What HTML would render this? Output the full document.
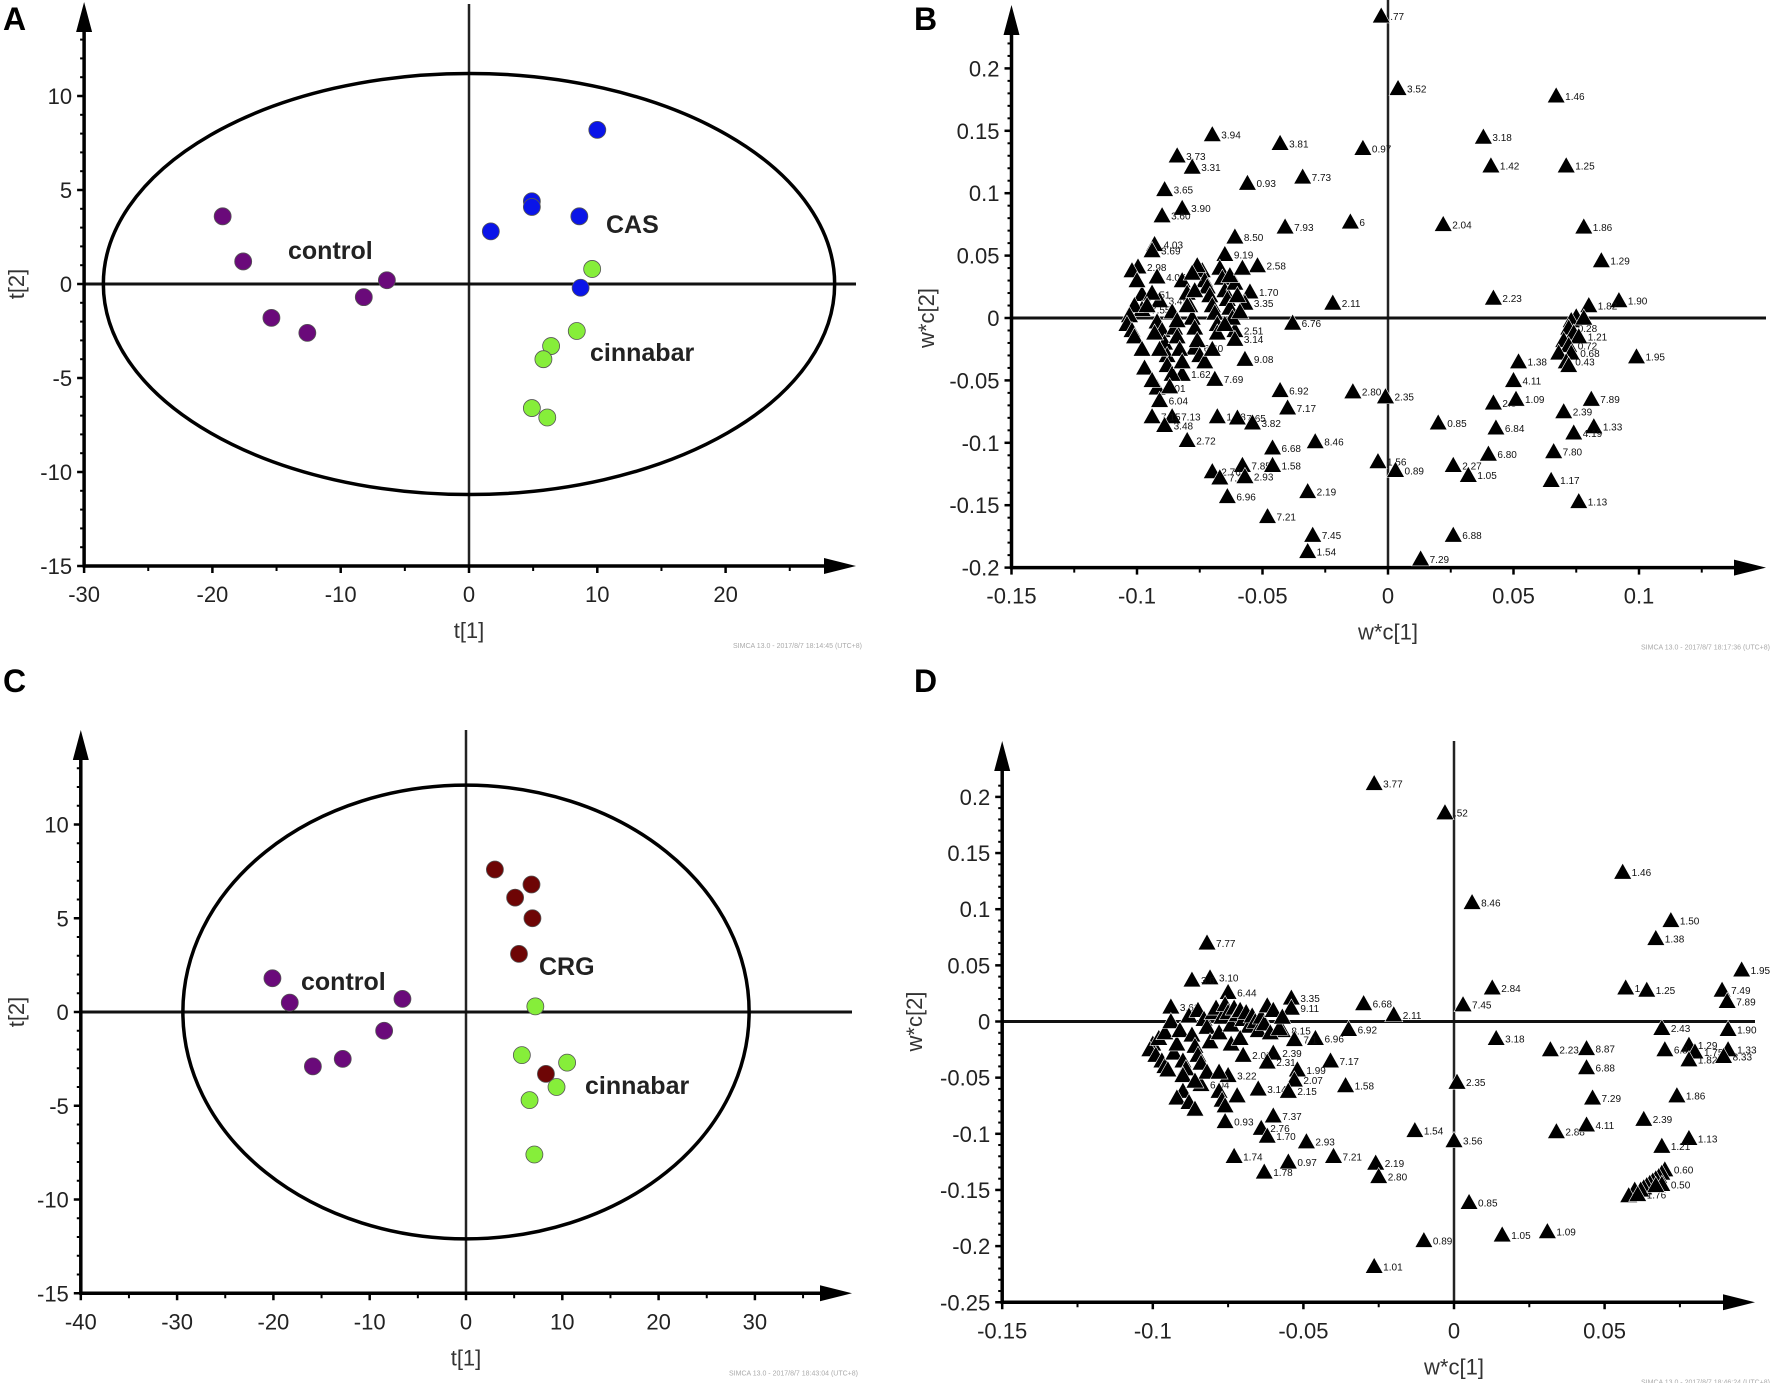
<!DOCTYPE html>
<html><head><meta charset="utf-8"><style>
html,body{margin:0;padding:0;background:#fff;}
svg{display:block;font-family:"Liberation Sans",sans-serif;}
</style></head><body>
<svg id="fig" width="1772" height="1383" viewBox="0 0 1772 1383" xmlns="http://www.w3.org/2000/svg"></svg>
<script>
// ---------- DATA ----------
const A_control_t1 = [-19.2,-17.6,-15.4,-12.6,-8.2,-6.4];
const A_control_t2 = [3.6,1.2,-1.8,-2.6,-0.7,0.2];
const A_cas_t1 = [10,4.9,4.9,1.7,8.6,8.7];
const A_cas_t2 = [8.2,4.4,4.1,2.8,3.6,-0.2];
const A_cin_t1 = [9.6,8.4,6.4,5.8,4.9,6.1];
const A_cin_t2 = [0.8,-2.5,-3.3,-4.0,-6.6,-7.1];
const A_xticks = [-30,-20,-10,0,10,20];
const A_yticks = [-15,-10,-5,0,5,10];
const C_control_t1 = [-20.1,-18.3,-15.9,-12.8,-8.5,-6.6];
const C_control_t2 = [1.8,0.5,-2.9,-2.5,-1.0,0.7];
const C_crg_t1 = [3.0,6.8,5.1,6.9,5.5,8.3];
const C_crg_t2 = [7.6,6.8,6.1,5.0,3.1,-3.3];
const C_cin_t1 = [7.2,5.8,10.5,9.4,6.6,7.1];
const C_cin_t2 = [0.3,-2.3,-2.7,-4.0,-4.7,-7.6];
const C_xticks = [-40,-30,-20,-10,0,10,20,30];
const C_yticks = [-15,-10,-5,0,5,10];
const B_w1 = [-0.0027,0.004,0.067,-0.070,-0.043,-0.010,0.038,-0.084,-0.078,0.041,0.071,-0.034,-0.089,-0.056,-0.082,-0.090,-0.041,-0.015,0.022,0.078,-0.061,-0.093,-0.094,-0.0996,-0.065,-0.052,0.085,-0.092,-0.055,0.042,-0.022,0.092,0.080,-0.098,-0.091,-0.057,-0.098,-0.038,-0.061,-0.061,-0.077,-0.057,0.052,0.099,-0.069,-0.082,0.050,-0.092,-0.043,-0.014,-0.001,-0.091,0.042,0.051,0.081,-0.040,0.070,-0.086,-0.094,-0.068,-0.060,-0.054,0.020,0.043,0.082,0.074,-0.089,-0.080,-0.029,-0.046,0.040,0.066,-0.004,0.003,-0.058,-0.046,0.026,-0.070,-0.067,-0.057,0.032,0.065,-0.032,-0.064,0.076,-0.048,-0.030,0.026,-0.032,0.013,
0.075,0.073,0.072,0.074,0.070,0.076,0.072,0.068,0.073,0.071,0.072,0.078,
-0.102,-0.100,-0.101,-0.103,-0.104,-0.102,-0.101,-0.098,-0.097,-0.094,-0.092,-0.090,-0.089,-0.088,-0.088,-0.086,-0.085,-0.084,-0.083,-0.082,-0.082,-0.080,-0.079,-0.078,-0.077,-0.076,-0.075,-0.074,-0.073,-0.072,-0.071,-0.070,-0.069,-0.068,-0.067,-0.066,-0.065,-0.064,-0.063,-0.062,-0.061,-0.060,-0.059,-0.076,-0.078,-0.080,-0.077,-0.086,-0.094,-0.096,-0.093,-0.091,-0.087,-0.073,-0.070,-0.068,-0.065,-0.063,-0.058,-0.084];
const B_w2 = [0.242,0.184,0.178,0.147,0.140,0.136,0.145,0.130,0.121,0.122,0.122,0.113,0.103,0.108,0.088,0.082,0.073,0.077,0.075,0.073,0.065,0.059,0.054,0.041,0.051,0.042,0.046,0.033,0.021,0.016,0.012,0.014,0.010,0.019,0.014,0.012,0.007,-0.004,-0.010,-0.017,-0.024,-0.033,-0.035,-0.031,-0.049,-0.045,-0.050,-0.056,-0.058,-0.059,-0.063,-0.066,-0.068,-0.065,-0.065,-0.072,-0.075,-0.079,-0.079,-0.079,-0.080,-0.084,-0.084,-0.088,-0.087,-0.092,-0.086,-0.098,-0.099,-0.104,-0.109,-0.107,-0.115,-0.122,-0.118,-0.118,-0.118,-0.123,-0.128,-0.127,-0.126,-0.130,-0.139,-0.143,-0.147,-0.159,-0.174,-0.174,-0.187,-0.193,
0.001,-0.002,-0.008,-0.012,-0.018,-0.015,-0.022,-0.028,-0.028,-0.035,-0.038,0.000,
0.038,0.030,0.010,0.002,-0.005,-0.010,-0.015,-0.025,-0.040,-0.050,-0.003,-0.010,-0.020,-0.030,-0.038,-0.045,-0.008,-0.015,-0.025,-0.035,0.030,0.020,0.010,0.000,-0.008,-0.018,-0.030,0.038,0.030,0.025,0.018,0.010,0.004,-0.005,0.040,0.032,0.022,0.015,0.008,0.000,0.028,0.018,0.005,0.042,0.036,0.010,0.022,0.005,0.020,0.010,-0.012,-0.025,-0.055,-0.035,-0.025,-0.012,-0.005,0.034,0.040,-0.002];
const B_lab = [".77","3.52","1.46","3.94","3.81","0.97","3.18","3.73","3.31","1.42","1.25","7.73","3.65","0.93","3.90","3.60","7.93","6","2.04","1.86","8.50","4.03","3.69","2.98","9.19","2.58","1.29","4.07","1.70","2.23","2.11","1.90","1.82","7.51","3.45","3.35","7.55","6.76","2.51","3.14","6.40","9.08","1.38","1.95","7.69","1.62","4.11","7.01","6.92","2.80","2.35","6.04","2.8","1.09","7.89","7.17","2.39","7.13","7.15","1.78","7.65","3.82","0.85","6.84","1.33","4.19","3.48","2.72","8.46","6.68","6.80","7.80","1.56","0.89","7.85","1.58","2.27","2.76","7.37","2.93","1.05","1.17","2.19","6.96","1.13","7.21","7.45","6.88","1.54","7.29",
"","","0.28","","","1.21","0.72","","0.68","0.43","","",
"","","","","","","","","","","","","","","","","","","","","","","","","","","","","","","","","","","","","","","","","","","","","","","","","","","","","","","","","","",""];
const B_xticks = [-0.15,-0.1,-0.05,0,0.05,0.1];
const B_yticks = [-0.2,-0.15,-0.1,-0.05,0,0.05,0.1,0.15,0.2];
const D_w1 = [-0.0265,-0.003,0.056,0.006,0.072,0.067,-0.082,0.0955,-0.081,-0.087,0.089,0.0907,0.0127,0.057,0.064,-0.075,-0.054,-0.030,0.003,-0.054,-0.020,-0.094,0.069,-0.035,0.091,-0.057,0.014,-0.046,-0.053,0.078,0.032,0.044,0.070,0.080,0.091,0.078,0.0895,-0.070,-0.060,-0.062,-0.041,0.044,-0.052,-0.053,0.001,-0.036,-0.084,-0.075,-0.065,-0.055,0.046,0.074,-0.060,0.063,-0.076,0.034,0.044,-0.013,-0.064,-0.062,-0.049,0.000,0.078,0.069,-0.073,-0.040,-0.055,-0.026,-0.063,-0.025,0.005,0.016,0.031,-0.010,-0.0265,
0.070,0.069,0.068,0.067,0.066,0.065,0.064,0.063,0.062,0.060,0.058,0.061,0.069,0.067,
-0.100,-0.101,-0.099,-0.098,-0.097,-0.096,-0.096,-0.095,-0.094,-0.093,-0.092,-0.091,-0.090,-0.089,-0.088,-0.087,-0.086,-0.085,-0.085,-0.084,-0.083,-0.082,-0.081,-0.080,-0.079,-0.078,-0.077,-0.076,-0.075,-0.074,-0.073,-0.072,-0.071,-0.070,-0.069,-0.068,-0.067,-0.066,-0.065,-0.064,-0.063,-0.062,-0.061,-0.060,-0.058,-0.057,-0.090,-0.092,-0.088,-0.086,-0.078,-0.077,-0.076,-0.072,-0.082,-0.078,-0.090,-0.086,-0.074,-0.071];
const D_w2 = [0.212,0.186,0.133,0.106,0.090,0.074,0.070,0.046,0.039,0.037,0.028,0.018,0.030,0.030,0.028,0.026,0.021,0.016,0.015,0.012,0.006,0.013,-0.006,-0.007,-0.007,-0.008,-0.015,-0.015,-0.016,-0.021,-0.025,-0.024,-0.025,-0.027,-0.025,-0.034,-0.031,-0.030,-0.028,-0.036,-0.035,-0.041,-0.043,-0.052,-0.054,-0.057,-0.056,-0.048,-0.060,-0.062,-0.068,-0.066,-0.084,-0.087,-0.089,-0.098,-0.092,-0.097,-0.095,-0.102,-0.107,-0.106,-0.104,-0.111,-0.120,-0.120,-0.125,-0.126,-0.134,-0.138,-0.161,-0.190,-0.187,-0.195,-0.218,
-0.132,-0.135,-0.138,-0.140,-0.142,-0.144,-0.146,-0.148,-0.150,-0.150,-0.155,-0.154,-0.145,-0.146,
-0.020,-0.025,-0.030,-0.015,-0.035,-0.010,-0.040,-0.043,0.000,-0.028,-0.020,-0.008,-0.035,-0.042,0.005,-0.012,-0.022,0.010,-0.030,-0.037,0.002,-0.005,-0.018,0.008,0.012,-0.010,0.004,0.015,0.008,-0.003,0.012,0.006,0.010,0.002,0.008,-0.004,0.005,0.000,-0.008,0.004,-0.002,0.014,-0.010,0.010,-0.006,0.004,-0.062,-0.068,-0.072,-0.078,-0.062,-0.070,-0.075,-0.066,-0.045,-0.045,-0.048,-0.053,-0.020,-0.015];
const D_lab = ["3.77",".52","1.46","8.46","1.50","1.38","7.77","1.95","3.10","3.6","7.49","7.89","2.84","1.4","1.25","6.44","3.35","6.68","7.45","9.11","2.11","3.61","2.43","6.92","1.90","8.15","3.18","6.96","7.1","1.29","2.23","8.87","6.8","1.75","1.33","1.82","8.33","2.03","2.39","2.31","7.17","6.88","1.99","2.07","2.35","1.58","6.04","3.22","3.14","2.15","7.29","1.86","7.37","2.39","0.93","2.88","4.11","1.54","2.76","1.70","2.93","3.56","1.13","1.21","1.74","7.21","0.97","2.19","1.78","2.80","0.85","1.05","1.09","0.89","1.01",
"0.60","","","","","","","","","","","1.76","0.50","",
"","","","","","","","","","","","","","","","","","","","","","","","","","","","","","","","","","","","","","","","","","","","","","","","","","","","","","","","","","",""];
const D_xticks = [-0.15,-0.1,-0.05,0,0.05];
const D_yticks = [-0.25,-0.2,-0.15,-0.1,-0.05,0,0.05,0.1,0.15,0.2];

// ---------- DRAWING ----------
const NS="http://www.w3.org/2000/svg";
const svg=document.getElementById('fig');
function el(tag,attrs,parent,text){const e=document.createElementNS(NS,tag);for(const k in attrs)e.setAttribute(k,attrs[k]);if(text!==undefined)e.textContent=text;(parent||svg).appendChild(e);return e;}

function panel(cfg){
  const g=el('g',{});
  
  
  const X=v=>cfg.x0+(v-cfg.xv0)*cfg.sx;
  const Y=v=>cfg.y0-(v-cfg.yv0)*cfg.sy;
  const ax=X(cfg.xmin), ay=Y(cfg.ymin);
  const zx=el('line',{x1:X(0),y1:cfg.vtop,x2:X(0),y2:ay,stroke:'#222','stroke-width':2.5},g);
  
  
  const zy=el('line',{x1:ax,y1:Y(0),x2:cfg.xend,y2:Y(0),stroke:'#111','stroke-width':3},g);
  
  
  const yax=el('line',{x1:ax,y1:cfg.ytop+20,x2:ax,y2:ay+1.5,stroke:'#000','stroke-width':3.5},g);
  
  
  const ya=el('polygon',{points:`${ax-8},${cfg.ytop+30} ${ax+8},${cfg.ytop+30} ${ax},${cfg.ytop}`,fill:'#000'},g);
  
  
  const xax=el('line',{x1:ax-1.5,y1:ay,x2:cfg.xend-20,y2:ay,stroke:'#000','stroke-width':3.5},g);
  
  
  const xa=el('polygon',{points:`${cfg.xend-32},${ay-8} ${cfg.xend-32},${ay+8} ${cfg.xend},${ay}`,fill:'#000'},g);
  
  
  cfg.xticks.forEach((t,i)=>{
    const tk=el('line',{x1:X(t),y1:ay,x2:X(t),y2:ay+7,stroke:'#000','stroke-width':2.5},g);
    
    
    const mt=X(t)+(cfg.xminor)*cfg.sx;
    if(mt<cfg.xend-35){const m=el('line',{x1:mt,y1:ay,x2:mt,y2:ay+5,stroke:'#000','stroke-width':2},g);
    
    }
    const lb=el('text',{x:X(t),y:ay+36,'text-anchor':'middle','font-size':22,fill:'#222'},g,String(t));
    
    
  });
  cfg.yticks.forEach(t=>{
    const tk=el('line',{x1:ax-7,y1:Y(t),x2:ax,y2:Y(t),stroke:'#000','stroke-width':2.5},g);
    
    
    for(let k=1;k<cfg.ysub;k++){const yy=Y(t+k*cfg.yminor);if(yy>cfg.ytop+35){const m=el('line',{x1:ax-4,y1:yy,x2:ax,y2:yy,stroke:'#000','stroke-width':2},g);
    
    }}
    const lb=el('text',{x:ax-12,y:Y(t)+8,'text-anchor':'end','font-size':22,fill:'#222'},g,String(t));
    
    
  });
  const xt=el('text',{x:X(0),y:ay+72,'text-anchor':'middle','font-size':22,fill:'#333'},g,cfg.xlabel);
  
  
  const yt=el('text',{x:cfg.ylabx,y:Y(0),'text-anchor':'middle','font-size':22,fill:'#333',transform:`rotate(-90 ${cfg.ylabx} ${Y(0)})`},g,cfg.ylabel);
  
  
  const pl=el('text',{x:cfg.lx,y:cfg.ly,'font-size':32,'font-weight':'bold',fill:'#000'},g,cfg.letter);
  
  
  const ft=el('text',{x:cfg.fx,y:ay+82,'text-anchor':'end','font-size':7,fill:'#aaa'},g,cfg.footer);
  
  
  return {g,X,Y};
}

function scorePanel(cfg,groups,ell,labels){
  const p=panel(cfg);
  const e=el('ellipse',{cx:p.X(0),cy:p.Y(0),rx:ell[0]*cfg.sx,ry:ell[1]*cfg.sy,fill:'none',stroke:'#000','stroke-width':3.5},p.g);
  
  
  groups.forEach(gr=>{
    gr.x.forEach((v,i)=>{
      const c=el('circle',{cx:p.X(v),cy:p.Y(gr.y[i]),r:8.5,fill:gr.color,stroke:'#555','stroke-width':0.8},p.g);
      
      
    });
  });
  labels.forEach(l=>{
    const t=el('text',{x:l[0],y:l[1],'font-size':25,'font-weight':'bold',fill:'#222'},p.g,l[2]);
    
    
  });
}

function loadPanel(cfg,w1,w2,lab){
  const p=panel(cfg);
  w1.forEach((v,i)=>{
    const x=p.X(v),y=p.Y(w2[i]);
    const t=el('polygon',{points:`${x-9},${y+7} ${x+9},${y+7} ${x},${y-9}`,fill:'#000',stroke:'#fff','stroke-width':0.6},p.g);
    
    
    if(lab[i]){
      const tx=el('text',{x:x+9,y:y+4,'font-size':10,fill:'#111'},p.g,lab[i]);
      
      
    }
  });
}

scorePanel({name:'panel-a',x0:469,xv0:0,sx:12.83,y0:284,yv0:0,sy:18.8,xmin:-30,ymin:-15,xend:856,vtop:4,ytop:2,
  xticks:A_xticks,xminor:5,yticks:A_yticks,yminor:1,ysub:5,xlabel:'t[1]',ylabel:'t[2]',ylabx:24,letter:'A',lx:3,ly:30,fx:862,footer:'SIMCA 13.0 - 2017/8/7 18:14:45 (UTC+8)'},
  [{name:'control',x:A_control_t1,y:A_control_t2,color:'#6a0a7a'},{name:'cas',x:A_cas_t1,y:A_cas_t2,color:'#0a14e8'},{name:'cinnabar',x:A_cin_t1,y:A_cin_t2,color:'#86ee3a'}],
  [28.5,11.2],[[288,259,'control'],[606,233,'CAS'],[590,361,'cinnabar']]);

scorePanel({name:'panel-c',x0:466,xv0:0,sx:9.63,y0:1012,yv0:0,sy:18.75,xmin:-40,ymin:-15,xend:852,vtop:730,ytop:730,
  xticks:C_xticks,xminor:5,yticks:C_yticks,yminor:1,ysub:5,xlabel:'t[1]',ylabel:'t[2]',ylabx:24,letter:'C',lx:3,ly:692,fx:858,footer:'SIMCA 13.0 - 2017/8/7 18:43:04 (UTC+8)'},
  [{name:'control',x:C_control_t1,y:C_control_t2,color:'#6a0a7a'},{name:'crg',x:C_crg_t1,y:C_crg_t2,color:'#6e0505'},{name:'cinnabar',x:C_cin_t1,y:C_cin_t2,color:'#86ee3a'}],
  [29.4,12.1],[[301,990,'control'],[539,975,'CRG'],[585,1094,'cinnabar']]);

loadPanel({name:'panel-b',x0:1388,xv0:0,sx:2510,y0:318,yv0:0,sy:1248,xmin:-0.15,ymin:-0.2,xend:1766,vtop:0,ytop:5,
  xticks:B_xticks,xminor:0.025,yticks:B_yticks,yminor:0.01,ysub:5,xlabel:'w*c[1]',ylabel:'w*c[2]',ylabx:934,letter:'B',lx:914,ly:30,fx:1770,footer:'SIMCA 13.0 - 2017/8/7 18:17:36 (UTC+8)'},
  B_w1,B_w2,B_lab);

loadPanel({name:'panel-d',x0:1454,xv0:0,sx:3012,y0:1021.5,yv0:0,sy:1123,xmin:-0.15,ymin:-0.25,xend:1755,vtop:741,ytop:741,
  xticks:D_xticks,xminor:0.025,yticks:D_yticks,yminor:0.01,ysub:5,xlabel:'w*c[1]',ylabel:'w*c[2]',ylabx:922,letter:'D',lx:914,ly:692,fx:1770,footer:'SIMCA 13.0 - 2017/8/7 18:46:24 (UTC+8)'},
  D_w1,D_w2,D_lab);
</script>
</body></html>
